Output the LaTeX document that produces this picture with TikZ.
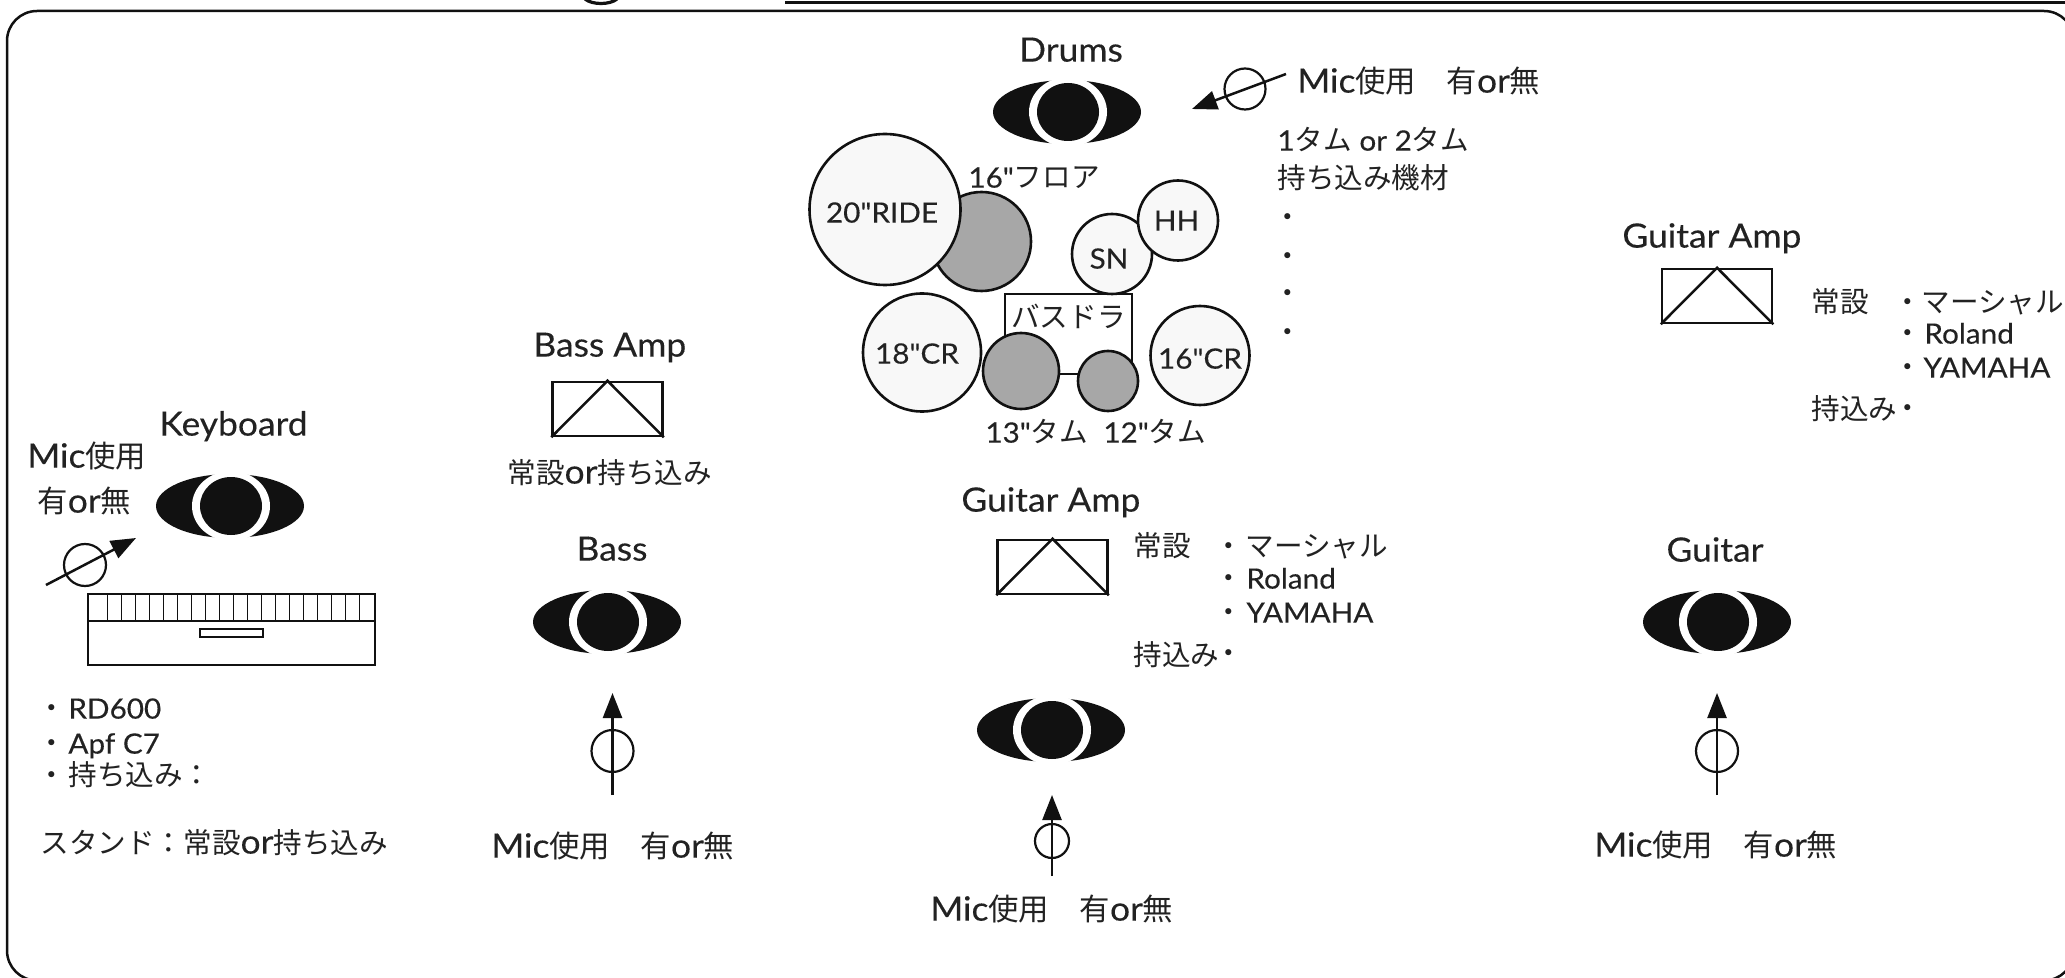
\documentclass[tikz,border=0pt]{standalone}
\usepackage{fontspec}
\usetikzlibrary{arrows.meta,shapes.geometric}
\newfontfamily\lat{Lato}[FakeStretch=1.06,FakeBold=0.25]
\newfontfamily\cjk{Noto Sans CJK JP}
\newcommand\J[1]{{\cjk\fontsize{14.3}{18}\selectfont #1}}
\newcommand\JJ[1]{{\cjk\fontsize{15.2}{18}\selectfont #1}}
\newcommand\sm{\fontsize{14}{18}\selectfont}
\newcommand\T[5]{\node[lbl,anchor=#4] (#1) at (#2,#3) {#5};}
\definecolor{ink}{HTML}{111111}
\definecolor{txt}{HTML}{222222}
\definecolor{pale}{HTML}{F8F8F8}
\definecolor{tomgray}{HTML}{A7A7A7}
\tikzset{
  lbl/.style={inner sep=0pt,text=txt,font=\lat\fontsize{16.7}{18}\selectfont,text height=14pt,text depth=3.4pt},
  heavy/.style={draw=ink,line width=1.25pt},
  thin key/.style={draw=ink,line width=.6pt},
  eyeouter/.style={ellipse,fill=ink,inner sep=0pt,minimum width=74pt,minimum height=32pt},
  eyering/.style={ellipse,fill=white,inner sep=0pt,minimum width=39pt,minimum height=35pt},
  eyeinner/.style={ellipse,fill=ink,inner sep=0pt,minimum width=31pt,minimum height=29pt},
  micarrow/.style={draw=ink,line width=1.25pt,-{Triangle[length=12.5pt,width=9.5pt,fill=ink]}},
  micring/.style={circle,draw=ink,line width=1.1pt,inner sep=0pt,minimum size=#1},
  cymbal/.style={circle,draw=ink,line width=1.3pt,fill=pale,inner sep=0pt,minimum size=#1},
  tom/.style={circle,draw=ink,line width=1.3pt,fill=tomgray,inner sep=0pt,minimum size=#1},
  amp/.style={rectangle,draw=ink,line width=1.25pt,inner sep=0pt,minimum width=55pt,minimum height=27pt},
}
\newcommand\Eye[3]{%
  \node[eyeouter] (#1o) at (#2-1,#3) {};
  \node[eyering] (#1r) at (#2,#3) {};
  \node[eyeinner] (#1i) at (#2,#3) {};
}
\begin{document}
\begin{tikzpicture}[x=.5pt,y=-.5pt]
\useasboundingbox (0,0) rectangle (2065,978);
\clip (0,0) rectangle (2065,978);
% frame and cut-off header
\draw[heavy,rounded corners=15pt] (7,11) rectangle (2074,980.5);
\draw[heavy] (785,2.5) -- (2065,2.5);
\draw[draw=ink,line width=1.6pt] (585,-1) .. controls (592,5) and (610,5) .. (617,-1);

% Drums
\T{drums}{1071}{51}{center}{Drums}
\Eye{de}{1068}{112}
\coordinate (dmA) at (1286,74);
\coordinate (dmB) at (1192,109);
\node[micring=20.5pt] (dmr) at (1245,89) {};
\draw[micarrow] (dmA) -- (dmB);
\T{dmic}{1297}{82}{west}{Mic\JJ{使用　有}or\JJ{無}}
\T{dtom}{1277}{140}{west}{\sm 1\J{タム} or 2\J{タム}}
\T{dgear}{1277}{178}{west}{\J{持ち込み機材}}
\T{dd1}{1288}{217}{center}{\J{・}}
\T{dd2}{1288}{256}{center}{\J{・}}
\T{dd3}{1288}{293}{center}{\J{・}}
\T{dd4}{1288}{332}{center}{\J{・}}

\node[tom=49.5pt] (floor) at (981.5,241.5) {};
\node[cymbal=75.5pt] (ride) at (885,209.5) {};
\T{ridet}{882}{212}{center}{\sm 20"RIDE}
\T{floort}{968}{177}{west}{\sm 16"\J{フロア}}
\node[cymbal=40pt] (sn) at (1112,254) {};
\T{snt}{1109}{258}{center}{\sm SN}
\node[cymbal=40pt] (hh) at (1178,220.5) {};
\T{hht}{1176.5}{220}{center}{\sm HH}
\node[rectangle,draw=ink,line width=1.2pt,inner sep=0pt,minimum width=63.5pt,minimum height=40pt] (kick) at (1068.5,334) {};
\T{kickt}{1068.5}{317}{center}{\J{バスドラ}}
\node[cymbal=59pt] (crl) at (922,352.5) {};
\T{crlt}{917}{353}{center}{\sm 18"CR}
\node[tom=38pt] (t13) at (1021,371) {};
\node[tom=30pt] (t12) at (1108,381) {};
\node[cymbal=49.5pt] (crr) at (1200,355.5) {};
\T{crrt}{1200}{358}{center}{\sm 16"CR}
\T{t13t}{985}{432}{west}{\sm 13"\J{タム}}
\T{t12t}{1103}{432}{west}{\sm 12"\J{タム}}

% Right guitar amp
\T{raL}{1622}{237}{west}{Guitar Amp}
\node[amp] (ra) at (1717,296) {};
\draw[heavy] (ra.south west) -- (ra.north) -- (ra.south east);
\T{ra1}{1811}{302}{west}{\J{常設}}
\T{rad1}{1908}{302}{center}{\J{・}}
\T{ra2}{1921}{302}{west}{\J{マーシャル}}
\T{rad2}{1908}{333}{center}{\J{・}}
\T{ra3}{1924}{333}{west}{\sm Roland}
\T{rad3}{1908}{367}{center}{\J{・}}
\T{ra4}{1923}{367}{west}{\sm YAMAHA}
\T{ra5}{1811}{409}{west}{\J{持込み}}
\T{rad4}{1908}{408}{center}{\J{・}}

% Centre guitar amp
\T{caL}{961}{501}{west}{Guitar Amp}
\node[amp] (ca) at (1052.5,567) {};
\draw[heavy] (ca.south west) -- (ca.north) -- (ca.south east);
\T{ca1}{1133}{546}{west}{\J{常設}}
\T{cad1}{1229}{546}{center}{\J{・}}
\T{ca2}{1245}{546}{west}{\J{マーシャル}}
\T{cad2}{1229}{578}{center}{\J{・}}
\T{ca3}{1246}{578}{west}{\sm Roland}
\T{cad3}{1229}{612}{center}{\J{・}}
\T{ca4}{1246}{612}{west}{\sm YAMAHA}
\T{ca5}{1133}{655}{west}{\J{持込み}}
\T{cad4}{1229}{653}{center}{\J{・}}
\Eye{ce}{1052}{730}
\coordinate (cmA) at (1052,876);
\coordinate (cmB) at (1052,795);
\node[micring=17pt] (cmr) at (1052,841) {};
\draw[micarrow] (cmA) -- (cmB);
\T{cmic}{930}{910}{west}{Mic\JJ{使用　有}or\JJ{無}}

% Bass
\T{baL}{533}{346}{west}{Bass Amp}
\node[amp] (ba) at (607.5,409) {};
\draw[heavy] (ba.south west) -- (ba.north) -- (ba.south east);
\T{bat}{507}{473}{west}{\J{常設}or\J{持ち込み}}
\T{bL}{612}{550}{center}{Bass}
\Eye{be}{608}{622}
\coordinate (bmA) at (612.5,795);
\coordinate (bmB) at (612.5,693);
\node[micring=21pt] (bmr) at (612.5,751) {};
\draw[micarrow] (bmA) -- (bmB);
\T{bmic}{491}{847}{west}{Mic\JJ{使用　有}or\JJ{無}}

% Guitar
\T{gL}{1715}{551}{center}{Guitar}
\Eye{ge}{1718}{622}
\coordinate (gmA) at (1717,795);
\coordinate (gmB) at (1717,693);
\node[micring=21pt] (gmr) at (1717,751) {};
\draw[micarrow] (gmA) -- (gmB);
\T{gmic}{1594}{846}{west}{Mic\JJ{使用　有}or\JJ{無}}

% Keyboard
\T{kL}{159}{425}{west}{Keyboard}
\T{km1}{27}{457}{west}{Mic\JJ{使用}}
\T{km2}{37}{502}{west}{\JJ{有}or\JJ{無}}
\Eye{ke}{231}{506}
\coordinate (kmA) at (46,585);
\coordinate (kmB) at (136,538);
\node[micring=21pt] (kmr) at (85,565) {};
\draw[micarrow] (kmA) -- (kmB);
\node[rectangle,draw=ink,line width=1.25pt,inner sep=0pt,minimum width=143.5pt,minimum height=35.5pt] (kbd) at (231.5,629.5) {};
\coordinate (kl) at (88,621);
\coordinate (kr) at (375,621);
\draw[thin key] (kl) -- (kr);
\foreach \i in {0,...,18} {
  \coordinate (ka\i) at ({107.3+14*\i},594);
  \coordinate (kb\i) at ({107.3+14*\i},621);
  \draw[thin key] (ka\i) -- (kb\i);
}
\node[rectangle,thin key,fill=white,inner sep=0pt,minimum width=31.5pt,minimum height=4pt] (kslot) at (231.5,633) {};
\T{kd1}{52}{708}{center}{\J{・}}
\T{k1}{68}{708}{west}{\sm RD600}
\T{kd2}{52}{743}{center}{\J{・}}
\T{k2}{68}{743}{west}{\sm Apf C7}
\T{kd3}{52}{775}{center}{\J{・}}
\T{k3}{68}{775}{west}{\J{持ち込み：}}
\T{k4}{40}{843}{west}{\J{スタンド：常設}or\J{持ち込み}}
\end{tikzpicture}
\end{document}
